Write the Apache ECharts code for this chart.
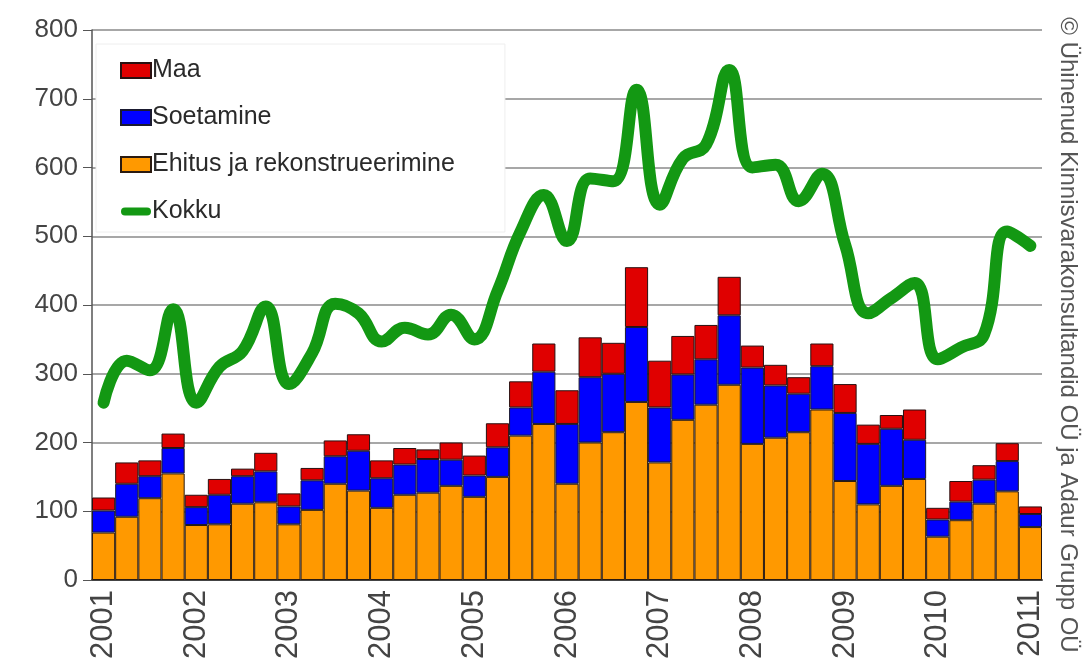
<!DOCTYPE html>
<html>
<head>
<meta charset="utf-8">
<script src="https://cdn.jsdelivr.net/npm/echarts@6/dist/echarts.min.js"></script>
<style>
  html, body { margin: 0; padding: 0; background: #fff; }
  #chart { width: 1083px; height: 666px; }
</style>
</head>
<body>
<div id="chart"></div>
<script>
// quarters 2001 Q1 .. 2011 Q1
var years = ['2001','2002','2003','2004','2005','2006','2007','2008','2009','2010','2011'];
var quarters = [];
years.forEach(function (y) {
  for (let q = 1; q <= 4; q++) {
    if (y === '2011' && q > 1) break;
    quarters.push(y + ' Q' + q);
  }
});

// Ehitus ja rekonstrueerimine
var ehitus = [69, 92, 119, 155, 80, 81, 111, 113, 81, 102, 140, 130, 105, 124, 127, 137,
  121, 150, 210, 227, 140, 200, 215, 259, 171, 233, 255, 284, 198, 207, 215, 248,
  144, 110, 137, 147, 63, 87, 111, 129, 77];
// Soetamine
var soetamine = [32, 48, 32, 37, 26, 43, 40, 45, 26, 43, 40, 58, 43, 44, 49, 38,
  31, 43, 41, 76, 87, 95, 85, 109, 80, 66, 66, 101, 111, 76, 56, 63,
  99, 88, 83, 57, 25, 27, 35, 44, 19];
// Maa
var maa = [19, 31, 23, 21, 18, 23, 11, 27, 19, 18, 23, 24, 26, 24, 14, 25,
  29, 35, 38, 41, 49, 58, 45, 87, 68, 56, 50, 56, 32, 30, 24, 33,
  42, 28, 20, 44, 17, 30, 21, 26, 11];
// Kokku
var kokku = [258, 319, 305, 394, 258, 310, 333, 398, 285, 330, 402, 388, 347, 367, 357, 386,
  350, 420, 507, 560, 493, 584, 580, 713, 546, 613, 633, 742, 600, 604, 551, 591,
  488, 388, 410, 432, 321, 338, 357, 507, 486];

var font = 'Liberation Sans, Arial, sans-serif';

var chart = echarts.init(document.getElementById('chart'));
chart.setOption({
  animation: false,
  textStyle: { fontFamily: font },
  grid: { left: 92, right: 41, top: 30, bottom: 86 },
  legend: {
    orient: 'vertical',
    left: 96,
    top: 44,
    padding: [14, 50, 8, 24],
    itemWidth: 30,
    itemHeight: 15,
    itemGap: 22,
    backgroundColor: '#fff',
    borderColor: '#eeeeee',
    borderWidth: 1,
    textStyle: { fontSize: 25, color: '#2a2a2a', fontFamily: font, padding: [0, 0, 0, -4] },
    data: [
      { name: 'Maa', icon: 'rect' },
      { name: 'Soetamine', icon: 'rect' },
      { name: 'Ehitus ja rekonstrueerimine', icon: 'rect' },
      { name: 'Kokku', icon: 'path://M4,0 L26,0 A4,4 0 0 1 26,8 L4,8 A4,4 0 0 1 4,0 Z', itemStyle: { color: '#139813', borderWidth: 0 } }
    ]
  },
  xAxis: {
    type: 'category',
    data: quarters,
    axisLine: { lineStyle: { color: '#444', width: 2 } },
    axisTick: { interval: 0, length: 7, lineStyle: { color: '#7a7ab8' } },
    axisLabel: {
      interval: 3,
      rotate: 90,
      margin: 10,
      fontSize: 31,
      color: '#444',
      fontFamily: font,
      formatter: function (v) { return v.split(' ')[0]; }
    },
    splitLine: { show: false }
  },
  yAxis: {
    type: 'value',
    min: 0,
    max: 800,
    interval: 100,
    axisLine: { show: true, lineStyle: { color: '#555', width: 1.5 } },
    axisTick: { show: true, length: 9, lineStyle: { color: '#555' } },
    axisLabel: { fontSize: 26, color: '#444', margin: 14, fontFamily: font },
    splitLine: { lineStyle: { color: '#8a8a8a', width: 1.5 } }
  },
  graphic: [{
    type: 'text',
    x: 1068,
    y: 335,
    rotation: -Math.PI / 2,
    style: {
      text: '© Ühinenud Kinnisvarakonsultandid OÜ ja Adaur Grupp OÜ',
      font: '24px ' + font,
      fill: '#555',
      textAlign: 'center',
      textVerticalAlign: 'middle'
    }
  }],
  series: [
    {
      name: 'Ehitus ja rekonstrueerimine',
      type: 'bar',
      stack: 'a',
      barCategoryGap: '0%',
      itemStyle: { color: '#ff9900', borderColor: '#2a1a10', borderWidth: 1 },
      data: ehitus
    },
    {
      name: 'Soetamine',
      type: 'bar',
      stack: 'a',
      itemStyle: { color: '#0000ff', borderColor: '#1a1a30', borderWidth: 1 },
      data: soetamine
    },
    {
      name: 'Maa',
      type: 'bar',
      stack: 'a',
      itemStyle: { color: '#e00000', borderColor: '#2a1010', borderWidth: 1 },
      data: maa
    },
    {
      name: 'Kokku',
      type: 'line',
      smooth: 0.45,
      symbol: 'none',
      z: 5,
      lineStyle: { color: '#139813', width: 12, cap: 'round', join: 'round' },
      itemStyle: { color: '#139813' },
      data: kokku
    }
  ]
});
</script>
</body>
</html>
